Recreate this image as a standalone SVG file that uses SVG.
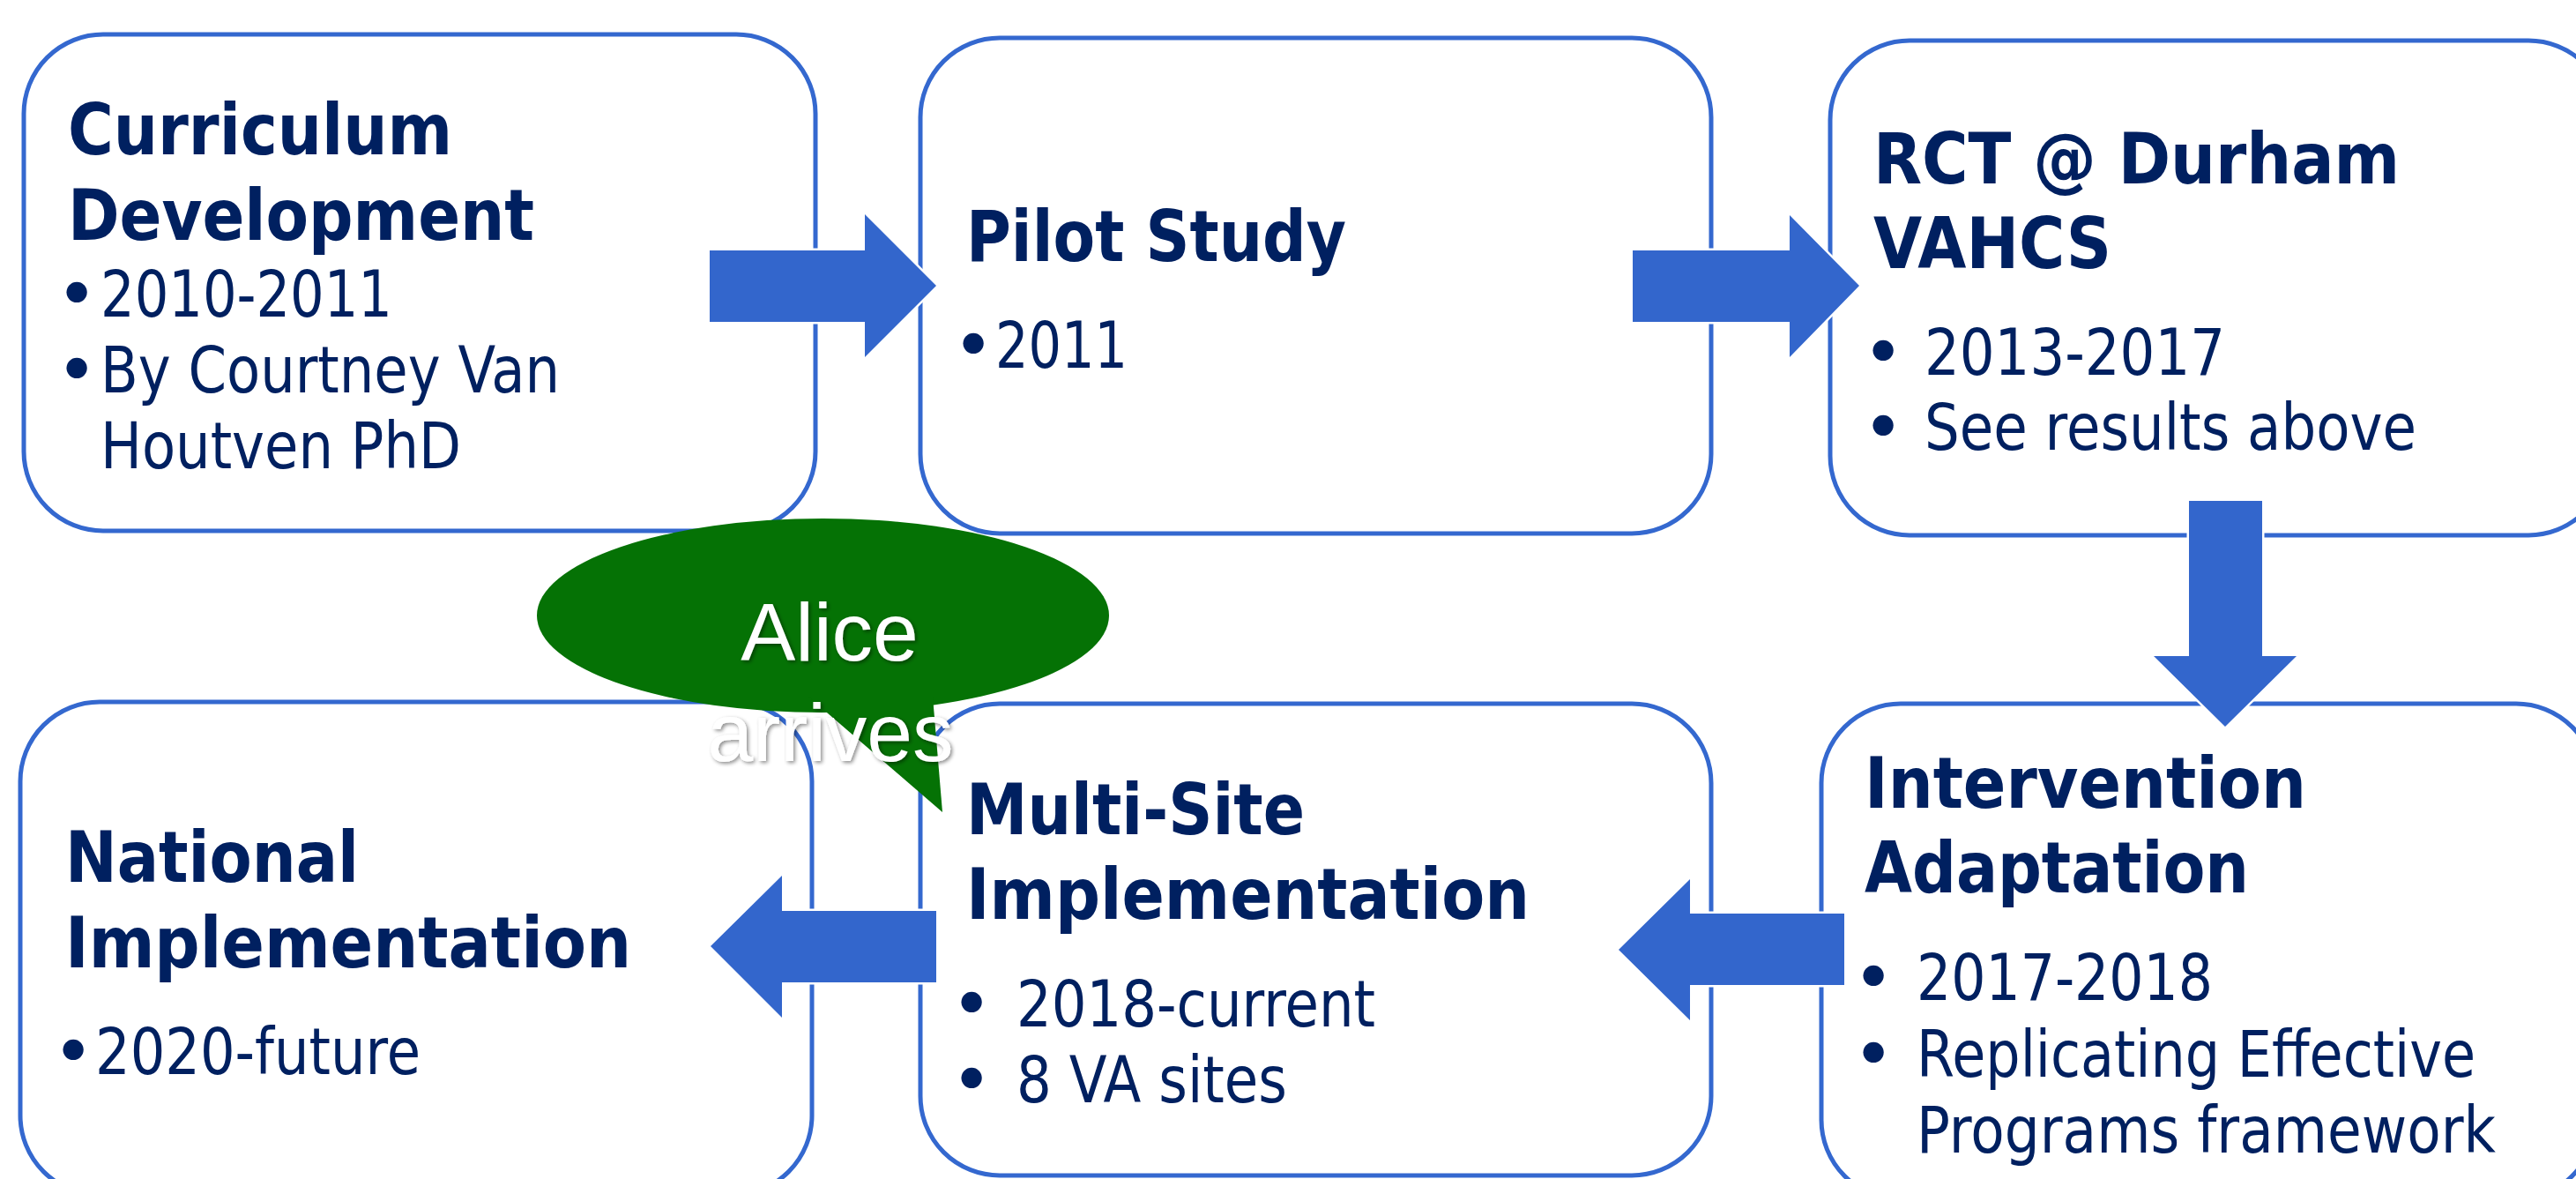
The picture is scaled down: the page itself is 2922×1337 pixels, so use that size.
<svg xmlns="http://www.w3.org/2000/svg" width="2922" height="1337" viewBox="0 0 2922 1337">
  <defs>
    <style>
      .box { fill: #ffffff; stroke: #3468CF; stroke-width: 5; }
      .title { font-family: "DejaVu Sans", "Liberation Sans", sans-serif; font-weight: bold; font-size: 80px; fill: #002060; }
      .body { font-family: "DejaVu Sans", "Liberation Sans", sans-serif; font-size: 73px; fill: #002060; }
      .bul { font-family: "DejaVu Sans", "Liberation Sans", sans-serif; font-size: 80px; fill: #002060; text-anchor: middle; }
      .arrow { fill: #3366CC; stroke: #ffffff; stroke-width: 5; paint-order: stroke; stroke-linejoin: miter; }
      .bubble { fill: #057205; }
      .btext { font-family: "Liberation Sans", Arial, sans-serif; font-size: 93px; fill: #ffffff; text-anchor: middle; }
    </style>
    <filter id="shadow" x="-10%" y="-20%" width="120%" height="140%">
      <feDropShadow dx="2" dy="2" stdDeviation="2" flood-color="#000000" flood-opacity="0.45"/>
    </filter>
  </defs>

  <g id="node-curriculum">
    <rect class="box" x="27" y="39" width="898" height="563" rx="90" ry="90"/>
    <text class="title" x="77" y="175" textLength="436" lengthAdjust="spacingAndGlyphs">Curriculum</text>
    <text class="title" x="77" y="272" textLength="529" lengthAdjust="spacingAndGlyphs">Development</text>
    <text class="bul" x="87" y="361">•</text>
    <text class="body" x="114" y="359" textLength="331" lengthAdjust="spacingAndGlyphs">2010-2011</text>
    <text class="bul" x="87" y="447">•</text>
    <text class="body" x="114" y="445" textLength="521" lengthAdjust="spacingAndGlyphs">By Courtney Van</text>
    <text class="body" x="114" y="531" textLength="409" lengthAdjust="spacingAndGlyphs">Houtven PhD</text>
  </g>

  <g id="node-pilot">
    <rect class="box" x="1044" y="43" width="897" height="562" rx="90" ry="90"/>
    <text class="title" x="1096" y="296" textLength="431" lengthAdjust="spacingAndGlyphs">Pilot Study</text>
    <text class="bul" x="1104" y="419">•</text>
    <text class="body" x="1129" y="417" textLength="150" lengthAdjust="spacingAndGlyphs">2011</text>
  </g>

  <g id="node-rct">
    <rect class="box" x="2076" y="46" width="882" height="561" rx="90" ry="90"/>
    <text class="title" x="2125" y="208" textLength="597" lengthAdjust="spacingAndGlyphs">RCT @ Durham</text>
    <text class="title" x="2125" y="304" textLength="270" lengthAdjust="spacingAndGlyphs">VAHCS</text>
    <text class="bul" x="2136" y="427">•</text>
    <text class="body" x="2183" y="425" textLength="341" lengthAdjust="spacingAndGlyphs">2013-2017</text>
    <text class="bul" x="2136" y="512">•</text>
    <text class="body" x="2183" y="510" textLength="558" lengthAdjust="spacingAndGlyphs">See results above</text>
  </g>

  <g id="node-national">
    <rect class="box" x="23" y="796" width="898" height="559" rx="90" ry="90"/>
    <text class="title" x="74" y="1000" textLength="333" lengthAdjust="spacingAndGlyphs">National</text>
    <text class="title" x="74" y="1097" textLength="642" lengthAdjust="spacingAndGlyphs">Implementation</text>
    <text class="bul" x="83" y="1220">•</text>
    <text class="body" x="108" y="1218" textLength="369" lengthAdjust="spacingAndGlyphs">2020-future</text>
  </g>

  <g id="node-multisite">
    <rect class="box" x="1044" y="798" width="897" height="535" rx="90" ry="90"/>
    <text class="title" x="1096" y="946" textLength="384" lengthAdjust="spacingAndGlyphs">Multi-Site</text>
    <text class="title" x="1096" y="1042" textLength="639" lengthAdjust="spacingAndGlyphs">Implementation</text>
    <text class="bul" x="1102" y="1166">•</text>
    <text class="body" x="1153" y="1164" textLength="407" lengthAdjust="spacingAndGlyphs">2018-current</text>
    <text class="bul" x="1102" y="1252">•</text>
    <text class="body" x="1153" y="1250" textLength="307" lengthAdjust="spacingAndGlyphs">8 VA sites</text>
  </g>

  <g id="node-adaptation">
    <rect class="box" x="2066" y="798" width="878" height="562" rx="90" ry="90"/>
    <text class="title" x="2115" y="916" textLength="501" lengthAdjust="spacingAndGlyphs">Intervention</text>
    <text class="title" x="2115" y="1012" textLength="436" lengthAdjust="spacingAndGlyphs">Adaptation</text>
    <text class="bul" x="2125" y="1136">•</text>
    <text class="body" x="2174" y="1134" textLength="336" lengthAdjust="spacingAndGlyphs">2017-2018</text>
    <text class="bul" x="2125" y="1223">•</text>
    <text class="body" x="2174" y="1221" textLength="634" lengthAdjust="spacingAndGlyphs">Replicating Effective</text>
    <text class="body" x="2174" y="1307" textLength="657" lengthAdjust="spacingAndGlyphs">Programs framework</text>
  </g>

  <g id="connectors">
    <polygon class="arrow" points="805,284 981,284 981,243 1062,324 981,405 981,365 805,365"/>
    <polygon class="arrow" points="1852,284 2030,284 2030,244 2109,324 2030,405 2030,365 1852,365"/>
    <polygon class="arrow" points="2483,568 2566,568 2566,744 2605,744 2524,824 2443,744 2483,744"/>
    <polygon class="arrow" points="2092,1036 1917,1036 1917,997 1836,1077 1917,1157 1917,1117 2092,1117"/>
    <polygon class="arrow" points="1062,1033 887,1033 887,993 806,1073 887,1154 887,1114 1062,1114"/>
  </g>

  <g id="node-alice">
    <ellipse class="bubble" cx="933.5" cy="698" rx="324.5" ry="110"/>
    <polygon class="bubble" points="917,790 1069,921 1058,790"/>
    <text class="btext" x="941" y="749" filter="url(#shadow)">Alice</text>
    <text class="btext" x="942" y="863" filter="url(#shadow)">arrives</text>
  </g>
</svg>
